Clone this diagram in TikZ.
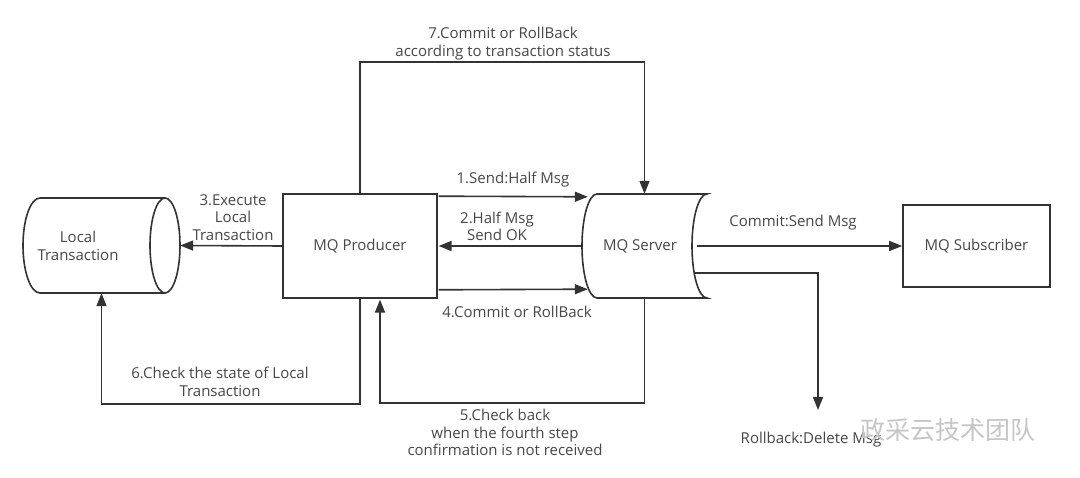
\documentclass[tikz,border=0pt]{standalone}
\usepackage{fontspec}
\setmainfont{Open Sans}
\newfontfamily\cjk{Noto Sans CJK SC}
\usetikzlibrary{arrows.meta,calc}
\definecolor{linec}{HTML}{333333}
\definecolor{textc}{HTML}{474747}
\tikzset{
  lbl/.style={font=\fontsize{15}{17.5}\selectfont, text=textc, align=center, inner sep=0pt},
  box/.style={draw=linec, line width=1.6pt, fill=white, font=\fontsize{15}{17.5}\selectfont, text=textc, align=center},
  ghost/.style={draw=none, inner sep=0pt},
  conn/.style={draw=linec, line width=1.6pt},
  arr/.style={conn, -{Triangle[length=13pt,width=10pt]}},
  outline/.style={draw=linec, line width=1.6pt, fill=white}
}
\begin{document}
\begin{tikzpicture}[x=1pt,y=-1pt]
\fill[white] (0,0) rectangle (1080,478);
\useasboundingbox (0,0) rectangle (1080,478);

% Local Transaction cylinder
\draw[outline] (165,198) -- (40,198) arc[start angle=90,end angle=270,x radius=17pt,y radius=47.5pt] -- (165,293);
\draw[outline] (165,245.5) ellipse[x radius=15pt, y radius=47.5pt];
\node[ghost, minimum width=157pt, minimum height=95pt] (lt) at (101.5,245.5) {};
\node[lbl] (ltl) at (78,246) {Local\\Transaction};

% MQ Server shape
\draw[outline] (597,194) -- (707,194) arc[start angle=90,end angle=270,x radius=15pt,y radius=52pt]
  -- (597,298) arc[start angle=270,end angle=90,x radius=15pt,y radius=52pt] -- cycle;
\node[ghost, minimum width=125pt, minimum height=104pt] (srv) at (644.5,246) {};
\node[lbl] (srvl) at (640,246) {MQ Server};

% Boxes
\node[box, minimum width=154pt, minimum height=104pt] (prod) at (360,246) {MQ Producer};
\node[box, minimum width=147pt, minimum height=82pt] (sub) at (976.5,246) {MQ Subscriber};

% Connectors
\draw[arr] (prod.north) -- ++(0,-131) -| (srv.north);
\draw[arr] ($(prod.north east)+(0.8,3)$) -- ($(srv.north west)+(6,3)$);
\draw[arr] (srv.west) -- ($(prod.east)+(0.8,0)$);
\draw[arr] ($(prod.south east)+(0.8,-9)$) -- ($(srv.south west)+(6,-9)$);
\draw[arr] (prod.west) -- (lt.east);
\draw[arr] ($(srv.east)+(-10,0)$) -- (sub.west);
\coordinate (rbend) at (818,410);
\draw[arr] ($(srv.east)+(-13,27)$) -| (rbend);
\draw[arr] (srv.south) -- ++(0,105) -| ($(prod.south)+(20,0.8)$);
\draw[arr] (prod.south) -- ++(0,105) -| (lt.south);

% Labels
\node[lbl] (l7) at (503,43.5) {7.Commit or RollBack\\according to transaction status};
\node[lbl] (l1) at (513,180) {1.Send:Half Msg};
\node[lbl] (l2) at (497,226.5) {2.Half Msg\\Send OK};
\node[lbl] (l4) at (517,312) {4.Commit or RollBack};
\node[lbl] (l3) at (233,217.5) {3.Execute\\Local\\Transaction};
\node[lbl] (lc) at (793,223) {Commit:Send Msg};
\node[lbl] (l6) at (220,382) {6.Check the state of Local\\Transaction};
\node[lbl] (l5) at (505,432.5) {5.Check back\\when the fourth step\\confirmation is not received};
\node[lbl] (lr) at (811,440) {Rollback:Delete Msg};
\node[inner sep=0pt, text=gray!45, font=\cjk\fontsize{25}{28}\selectfont] (wm) at (948,430) {政采云技术团队};
\end{tikzpicture}
\end{document}
